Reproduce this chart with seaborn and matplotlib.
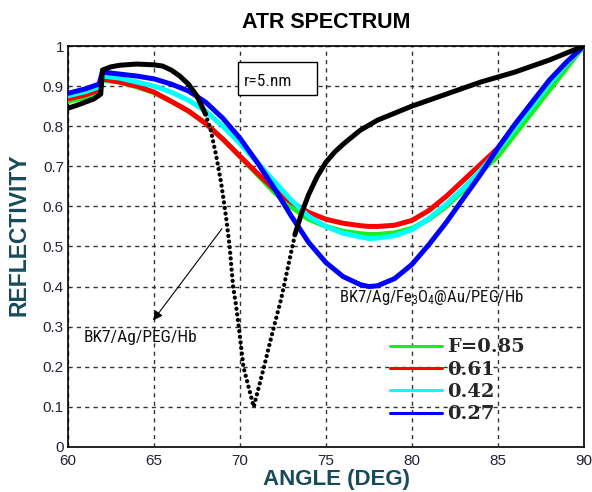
import numpy as np
import pandas as pd
import matplotlib
matplotlib.use("Agg")
import matplotlib.pyplot as plt
from matplotlib.patches import Rectangle
import seaborn as sns

# ---------------- data ----------------
angle = [60, 61, 61.8, 62, 63, 64, 65, 66, 67, 68, 69, 70, 71, 72, 73, 74, 75, 76,
         77, 77.5, 78, 79, 80, 81, 82, 83, 84, 85, 86, 87, 88, 89, 90]
refl_085 = [0.862, 0.872, 0.885, 0.915, 0.91, 0.898, 0.884, 0.862, 0.838, 0.807, 0.768,
            0.725, 0.68, 0.635, 0.598, 0.568, 0.55, 0.538, 0.532, 0.53, 0.53, 0.534, 0.545,
            0.568, 0.60, 0.64, 0.685, 0.725, 0.78, 0.835, 0.89, 0.945, 1.0]
refl_061 = [0.868, 0.878, 0.89, 0.918, 0.91, 0.90, 0.885, 0.862, 0.838, 0.807, 0.768,
            0.725, 0.683, 0.643, 0.61, 0.585, 0.568, 0.558, 0.552, 0.55, 0.55, 0.553, 0.565,
            0.59, 0.625, 0.665, 0.705, 0.745, 0.80, 0.855, 0.905, 0.955, 1.0]
refl_042 = [0.876, 0.886, 0.898, 0.925, 0.92, 0.91, 0.90, 0.885, 0.865, 0.838, 0.80,
            0.757, 0.71, 0.662, 0.615, 0.575, 0.55, 0.533, 0.524, 0.52, 0.521, 0.527, 0.542,
            0.57, 0.605, 0.645, 0.69, 0.74, 0.795, 0.85, 0.905, 0.955, 1.0]
refl_027 = [0.882, 0.893, 0.905, 0.935, 0.93, 0.925, 0.918, 0.905, 0.888, 0.86, 0.82,
            0.77, 0.71, 0.645, 0.575, 0.51, 0.46, 0.425, 0.405, 0.40, 0.402, 0.42, 0.455,
            0.505, 0.56, 0.62, 0.68, 0.745, 0.805, 0.86, 0.915, 0.96, 1.0]

black_angle = [60, 60.5, 61, 61.5, 61.9, 62.0, 62.5, 63, 64, 65, 65.5, 66, 66.5, 67,
               67.5, 68, 68.3, 68.6, 68.9, 69.05, 69.2, 69.4, 69.6, 69.75, 69.93, 70.2,
               70.5, 70.8, 71.1, 71.4, 71.8, 72.1, 72.4, 72.8, 73.2, 73.6, 74, 74.5, 75,
               75.5, 76, 77, 78, 80, 82, 84, 86, 88, 90]
black_refl = [0.845, 0.852, 0.86, 0.868, 0.88, 0.94, 0.948, 0.952, 0.955, 0.953, 0.95,
              0.94, 0.925, 0.905, 0.875, 0.83, 0.79, 0.73, 0.66, 0.616, 0.57, 0.50, 0.40,
              0.36, 0.30, 0.20, 0.15, 0.10, 0.15, 0.20, 0.27, 0.32, 0.37, 0.45, 0.53,
              0.585, 0.63, 0.675, 0.71, 0.735, 0.755, 0.79, 0.815, 0.85, 0.88, 0.91,
              0.935, 0.965, 1.0]

series_labels = ["F=0.85", "0.61", "0.42", "0.27"]
series_colors = ["#18f018", "#ff0000", "#00ffff", "#0000ff"]
xticks = [60, 65, 70, 75, 80, 85, 90]
yticks = [0, 0.1, 0.2, 0.3, 0.4, 0.5, 0.6, 0.7, 0.8, 0.9, 1]
ytick_labels = ["0", "0.1", "0.2", "0.3", "0.4", "0.5", "0.6", "0.7", "0.8", "0.9", "1"]

# ---------------- plot ----------------
sns.set_style("white")
plt.rcParams["font.family"] = ["Liberation Sans", "DejaVu Sans"]
narrow = ["Roboto Condensed", "Liberation Sans Narrow", "DejaVu Sans"]
plt.rcParams["mathtext.fontset"] = "custom"
plt.rcParams["mathtext.rm"] = "Roboto Condensed"
plt.rcParams["mathtext.it"] = "Roboto Condensed"

fig = plt.figure(figsize=(5.92, 4.92), dpi=100)
ax = fig.add_axes([0.115, 0.0915, 0.871, 0.815])

df = pd.DataFrame({"angle": angle, "F=0.85": refl_085, "0.61": refl_061,
                   "0.42": refl_042, "0.27": refl_027})
for lab, col in zip(series_labels, series_colors):
    sns.lineplot(x=df["angle"], y=df[lab], ax=ax, color=col, lw=3.6, label=lab,
                 solid_capstyle="round", zorder=3)

bdf = pd.DataFrame({"angle": black_angle, "refl": black_refl})
left = bdf[bdf["angle"] <= 68.0]
mid = bdf[(bdf["angle"] >= 68.0) & (bdf["angle"] <= 73.2)]
right = bdf[bdf["angle"] >= 73.2]
for part in (left, right):
    sns.lineplot(x=part["angle"], y=part["refl"], ax=ax, color="black", lw=3.6,
                 legend=False, zorder=4, solid_capstyle="round")
sns.lineplot(x=mid["angle"], y=mid["refl"], ax=ax, color="black", lw=3.1,
             legend=False, zorder=4)
mline = ax.lines[-1]
mline.set_linestyle((0, (0.01, 1.3)))
mline.set_dash_capstyle("round")

ax.set_xlim(60, 90)
ax.set_ylim(0, 1)
ax.set_xticks(xticks)
ax.set_xticklabels([str(t) for t in xticks])
ax.set_yticks(yticks)
ax.set_yticklabels(ytick_labels)
ax.grid(True, color="#333333", linestyle=(0, (3, 3)), linewidth=1.0)
for s in ax.spines.values():
    s.set_color("black")
    s.set_linewidth(1.2)
ax.tick_params(axis="both", labelsize=11, colors="#222233", length=0)
ax.tick_params(axis="x", pad=5)
ax.tick_params(axis="y", pad=3)

ax.set_title("ATR SPECTRUM", fontsize=15.5, fontweight="bold", color="black", pad=13)
ax.set_xlabel("ANGLE (DEG)", fontsize=16, fontweight="bold", color="#174a5a")
ax.set_ylabel("REFLECTIVITY", fontsize=16.5, fontweight="bold", color="#174a5a")
ax.xaxis.set_label_coords(0.52, -0.056)
ax.yaxis.set_label_coords(-0.072, 0.53)

ax.add_patch(Rectangle((69.87, 0.878), 4.63, 0.082, fill=True, fc="white", ec="black",
                       lw=1.0, zorder=6))
ax.text(70.2, 0.912, "r=5.nm", fontsize=12.5, family=narrow, va="center", ha="left",
        color="#111111", zorder=7)
ax.text(60.9, 0.273, "BK7/Ag/PEG/Hb", fontsize=12.5, family=narrow, color="#111111",
        va="center", ha="left", zorder=6)
ax.text(75.75, 0.372, "BK7/Ag/Fe$_3$O$_4$@Au/PEG/Hb", fontsize=12, family=narrow,
        color="#111111", va="center", ha="left", zorder=6)
ax.annotate("", xy=(64.85, 0.31), xytext=(69.05, 0.55),
            arrowprops=dict(arrowstyle="-|>", color="black", lw=0.8,
                            mutation_scale=14), zorder=6)

leg = ax.legend(loc="upper left", bbox_to_anchor=(0.609, 0.29), frameon=False,
                handlelength=2.7, handletextpad=0.25, labelspacing=0.22,
                borderaxespad=0.0,
                prop={"family": ["DejaVu Serif"], "weight": "bold", "size": 14})
for h in leg.get_lines():
    h.set_linewidth(2.2)

fig.savefig("out.png", dpi=100)
